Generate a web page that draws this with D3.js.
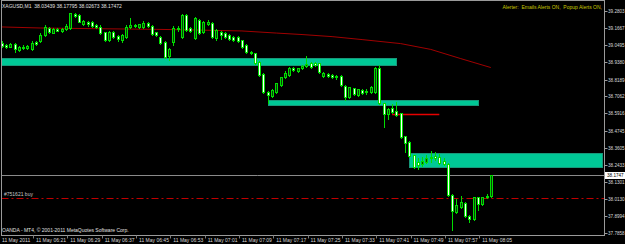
<!DOCTYPE html>
<html>
<head>
<meta charset="utf-8">
<script src="https://cdn.jsdelivr.net/npm/d3@7"></script>
<style>
body { margin: 0; background: #000; }
svg { display: block; }
text { font-family: "Liberation Sans", Arial, sans-serif; }
</style>
</head>
<body>
<div id="chart"></div>
<script>
// XAGUSD M1 bars, 06:13 .. 08:07
var barOpen = [39.067,39.051,39.040,39.058,39.018,39.038,39.031,39.022,39.073,39.080,
  39.118,39.164,39.134,39.157,39.149,39.157,39.166,39.260,39.253,39.192,
  39.206,39.208,39.186,39.174,39.137,39.085,39.141,39.112,39.085,39.107,
  39.174,39.186,39.174,39.174,39.197,39.179,39.137,39.107,39.073,38.977,
  39.071,39.166,39.107,39.253,39.164,39.098,39.220,39.141,39.192,39.197,
  39.096,39.141,39.134,39.118,39.107,39.107,39.085,39.051,39.006,38.997,
  38.937,38.856,38.737,38.708,38.737,38.782,38.838,38.849,38.894,38.878,
  38.894,38.910,38.932,38.930,38.928,38.843,38.856,38.849,38.834,38.843,
  38.775,38.703,38.760,38.715,38.748,38.742,38.737,38.737,38.894,38.659,
  38.587,38.625,38.609,38.591,38.439,38.400,38.311,38.264,38.250,38.266,
  38.291,38.304,38.295,38.271,38.250,38.042,37.929,37.963,37.986,37.900,
  37.878,38.026,37.981,38.026,38.03439];
var barHigh = [39.078,39.058,39.065,39.065,39.044,39.051,39.051,39.078,39.078,39.132,
  39.186,39.172,39.166,39.166,39.166,39.192,39.269,39.267,39.260,39.220,
  39.213,39.213,39.192,39.186,39.139,39.145,39.145,39.118,39.125,39.186,
  39.233,39.196,39.196,39.215,39.203,39.186,39.142,39.112,39.078,39.031,
  39.179,39.179,39.260,39.260,39.172,39.240,39.226,39.216,39.220,39.206,
  39.159,39.149,39.139,39.125,39.112,39.112,39.088,39.058,39.014,39.001,
  38.944,38.863,38.745,38.755,38.799,38.839,38.878,38.903,38.903,38.900,
  38.920,38.977,38.940,38.937,38.933,38.869,38.863,38.856,38.849,38.849,
  38.782,38.772,38.765,38.758,38.755,38.758,38.775,38.903,38.917,38.664,
  38.627,38.654,38.670,38.597,38.442,38.405,38.314,38.291,38.297,38.311,
  38.338,38.331,38.318,38.291,38.257,38.048,38.015,38.035,37.995,37.907,
  38.032,38.032,38.032,38.048,38.17795];
var barLow = [39.038,39.031,39.038,39.004,39.011,39.024,39.024,39.018,39.051,39.071,
  39.112,39.132,39.129,39.145,39.142,39.152,39.159,39.240,39.206,39.186,
  39.182,39.172,39.169,39.125,39.078,39.078,39.102,39.078,39.071,39.102,
  39.169,39.172,39.169,39.169,39.172,39.118,39.112,39.061,38.964,38.950,
  39.051,39.149,39.098,39.145,39.142,39.091,39.125,39.132,39.186,39.102,
  39.088,39.091,39.098,39.085,39.078,39.075,39.034,39.001,38.991,38.923,
  38.843,38.726,38.661,38.701,38.732,38.775,38.832,38.843,38.876,38.873,
  38.890,38.903,38.896,38.910,38.866,38.836,38.836,38.829,38.826,38.775,
  38.681,38.698,38.715,38.708,38.725,38.725,38.732,38.732,38.654,38.501,
  38.553,38.597,38.573,38.429,38.333,38.301,38.223,38.217,38.237,38.257,
  38.264,38.277,38.254,38.244,38.035,37.806,37.924,37.958,37.894,37.862,
  37.873,37.941,37.974,38.021,38.02673];
var barClose = [39.044,39.038,39.058,39.024,39.040,39.031,39.044,39.067,39.058,39.120,
  39.170,39.137,39.157,39.149,39.159,39.179,39.264,39.246,39.208,39.215,
  39.192,39.179,39.176,39.134,39.085,39.141,39.107,39.090,39.118,39.174,
  39.186,39.179,39.190,39.197,39.179,39.125,39.118,39.067,38.972,39.024,
  39.166,39.159,39.253,39.152,39.147,39.233,39.132,39.208,39.206,39.107,
  39.152,39.118,39.103,39.090,39.085,39.080,39.040,39.006,38.995,38.930,
  38.849,38.737,38.715,38.748,38.793,38.834,38.861,38.894,38.883,38.894,
  38.912,38.923,38.905,38.917,38.871,38.865,38.843,38.834,38.843,38.782,
  38.703,38.767,38.721,38.753,38.730,38.738,38.767,38.894,38.659,38.587,
  38.620,38.602,38.580,38.434,38.394,38.307,38.230,38.244,38.271,38.289,
  38.301,38.291,38.259,38.254,38.042,37.936,37.974,37.997,37.900,37.878,
  38.026,37.981,38.026,38.038,38.17472];

// moving average (bar index, price)
var maBars = [0, 9, 23, 36, 46, 56, 64, 70, 77, 84, 93, 100, 107, 114];
var maValues = [39.173, 39.166, 39.161, 39.157, 39.152, 39.146, 39.132, 39.122,
  39.108, 39.088, 39.061, 39.022, 38.960, 38.900];

// rectangles drawn on the chart
var zoneFrom = [-10, 62, 95];
var zoneTo = [92, 111, 140];
var zoneTop = [38.962, 38.681, 38.326];
var zoneBottom = [38.917, 38.648, 38.232];

var stopLine = [91, 102, 38.585];
var orderPrice = 38.020;
var orderLabel = "#751621 buy";

var priceTicks = [39.2803, 39.1667, 39.0495, 38.9380, 38.8189, 38.7062, 38.5916,
  38.4745, 38.3605, 38.2433, 38.1301, 38.0130, 37.8994, 37.7858];
var timeTickBars = [0, 8, 16, 24, 32, 40, 48, 56, 64, 72, 80, 88, 96, 104, 112];
var timeLabels = ["11 May 2011", "11 May 06:21", "11 May 06:29", "11 May 06:37",
  "11 May 06:45", "11 May 06:53", "11 May 07:01", "11 May 07:09", "11 May 07:17",
  "11 May 07:25", "11 May 07:33", "11 May 07:41", "11 May 07:49", "11 May 07:57",
  "11 May 08:05"];

var w = 625, h = 244;
var plotLeft = 1.5, plotRight = 604.5, plotTop = 0.5, plotBottom = 235.5;

var svg = d3.select("#chart").append("svg")
  .attr("width", w)
  .attr("height", h);

svg.append("rect").attr("width", w).attr("height", h).attr("fill", "#000");

var x = d3.scaleLinear().domain([0, 114]).range([1.7, 490.8]);
var y = d3.scaleLinear().domain([37.7858, 39.2803]).range([233.2, 11]);

svg.append("clipPath").attr("id", "plot")
  .append("rect")
  .attr("x", plotLeft + 0.5).attr("y", plotTop + 0.5)
  .attr("width", plotRight - plotLeft - 1).attr("height", plotBottom - plotTop - 1);

var plot = svg.append("g").attr("clip-path", "url(#plot)");

// zones
plot.selectAll(".zone")
  .data(zoneFrom)
  .enter()
  .append("rect")
  .attr("class", "zone")
  .attr("x", function(d, i) { return Math.round(x(d)) + 0.5; })
  .attr("y", function(d, i) { return Math.round(y(zoneTop[i])) + 0.5; })
  .attr("width", function(d, i) { return Math.round(x(zoneTo[i])) - Math.round(x(d)); })
  .attr("height", function(d, i) { return Math.round(y(zoneBottom[i])) - Math.round(y(zoneTop[i])); })
  .attr("fill", "#00c896")
  .attr("stroke", "#17987a")
  .attr("stroke-width", 1);

// moving average
plot.append("path")
  .datum(maBars)
  .attr("d", d3.line()
    .x(function(d) { return x(d); })
    .y(function(d, i) { return y(maValues[i]); }))
  .attr("fill", "none")
  .attr("stroke", "#a00000")
  .attr("stroke-width", 1);

// bid line
var lastClose = barClose[barClose.length - 1];
plot.append("line")
  .attr("x1", plotLeft).attr("x2", plotRight)
  .attr("y1", Math.round(y(lastClose)) + 0.5)
  .attr("y2", Math.round(y(lastClose)) + 0.5)
  .attr("stroke", "#8a8a8a");

// order line
plot.append("line")
  .attr("x1", plotLeft).attr("x2", plotRight)
  .attr("y1", Math.round(y(orderPrice)) + 0.5)
  .attr("y2", Math.round(y(orderPrice)) + 0.5)
  .attr("stroke", "#c00000")
  .attr("stroke-dasharray", "7,3,2,3");

svg.append("text")
  .attr("x", 4).attr("y", Math.round(y(orderPrice)) - 2)
  .attr("fill", "#c8c8c8")
  .attr("font-size", "5px")
  .text(orderLabel);

// red level
plot.append("line")
  .attr("x1", x(stopLine[0])).attr("x2", x(stopLine[1]))
  .attr("y1", y(stopLine[2])).attr("y2", y(stopLine[2]))
  .attr("stroke", "#e60000")
  .attr("stroke-width", 1.5);

// candles
var bars = plot.selectAll(".bar")
  .data(barOpen)
  .enter()
  .append("g")
  .attr("class", "bar");

bars.append("line")
  .attr("x1", function(d, i) { return Math.round(x(i)) + 0.5; })
  .attr("x2", function(d, i) { return Math.round(x(i)) + 0.5; })
  .attr("y1", function(d, i) { return Math.round(y(barHigh[i])); })
  .attr("y2", function(d, i) { return Math.round(y(barLow[i])) + 1; })
  .attr("stroke", "#00dd00");

bars.append("rect")
  .attr("x", function(d, i) { return Math.round(x(i)) - 0.5; })
  .attr("y", function(d, i) { return Math.round(y(Math.max(d, barClose[i]))) + 0.5; })
  .attr("width", 2)
  .attr("height", function(d, i) {
    return Math.round(y(Math.min(d, barClose[i]))) - Math.round(y(Math.max(d, barClose[i])));
  })
  .attr("fill", function(d, i) { return barClose[i] >= d ? "#0a400a" : "#ffffff"; })
  .attr("stroke", "#00dd00");

// frame
svg.append("rect")
  .attr("x", plotLeft).attr("y", plotTop)
  .attr("width", plotRight - plotLeft).attr("height", plotBottom - plotTop)
  .attr("fill", "none")
  .attr("stroke", "#9a9a9a");

// price axis
var yAxis = svg.append("g");
yAxis.selectAll("line")
  .data(priceTicks)
  .enter()
  .append("line")
  .attr("x1", plotRight).attr("x2", plotRight + 3)
  .attr("y1", function(d) { return Math.round(y(d)) + 0.5; })
  .attr("y2", function(d) { return Math.round(y(d)) + 0.5; })
  .attr("stroke", "#9a9a9a");
yAxis.selectAll("text")
  .data(priceTicks)
  .enter()
  .append("text")
  .attr("x", 608)
  .attr("y", function(d) { return y(d) + 2; })
  .attr("fill", "#d8d8d8")
  .attr("font-size", "4.6px")
  .text(function(d) { return d.toFixed(4); });

// current price box
svg.append("rect")
  .attr("x", 605).attr("y", Math.round(y(lastClose)) - 3)
  .attr("width", 20).attr("height", 7)
  .attr("fill", "#ffffff");
svg.append("text")
  .attr("x", 607).attr("y", y(lastClose) + 2)
  .attr("fill", "#000")
  .attr("font-size", "4.6px")
  .text(lastClose.toFixed(4));

// time axis
var xAxis = svg.append("g");
xAxis.selectAll("line")
  .data(timeTickBars)
  .enter()
  .append("line")
  .attr("x1", function(d) { return Math.round(x(d)) - 2.5; })
  .attr("x2", function(d) { return Math.round(x(d)) - 2.5; })
  .attr("y1", plotBottom).attr("y2", plotBottom + 3)
  .attr("stroke", "#7a7a7a");
xAxis.selectAll("text")
  .data(timeTickBars)
  .enter()
  .append("text")
  .attr("x", function(d, i) { return i == 0 ? 2 : x(d); })
  .attr("y", 242)
  .attr("fill", "#d8d8d8")
  .attr("font-size", "5px")
  .text(function(d, i) { return timeLabels[i]; });

// header texts
svg.append("text")
  .attr("x", 2).attr("y", 7.5)
  .attr("fill", "#e0e0e0")
  .attr("font-size", "5px")
  .attr("xml:space", "preserve")
  .text("XAGUSD,M1  " + [barOpen[114], barHigh[114], barLow[114], barClose[114]].map(function(v) { return v.toFixed(5); }).join(" "));

svg.append("text")
  .attr("x", 602).attr("y", 9)
  .attr("text-anchor", "end")
  .attr("fill", "#c8c800")
  .attr("font-size", "5px")
  .attr("xml:space", "preserve")
  .text("Alerter:  Emails Alerts ON,  Popup Alerts ON,");

svg.append("text")
  .attr("x", 2).attr("y", 232)
  .attr("fill", "#e0e0e0")
  .attr("font-size", "5px")
  .text("OANDA - MT4, \u00a9 2001-2011 MetaQuotes Software Corp.");
</script>
</body>
</html>
